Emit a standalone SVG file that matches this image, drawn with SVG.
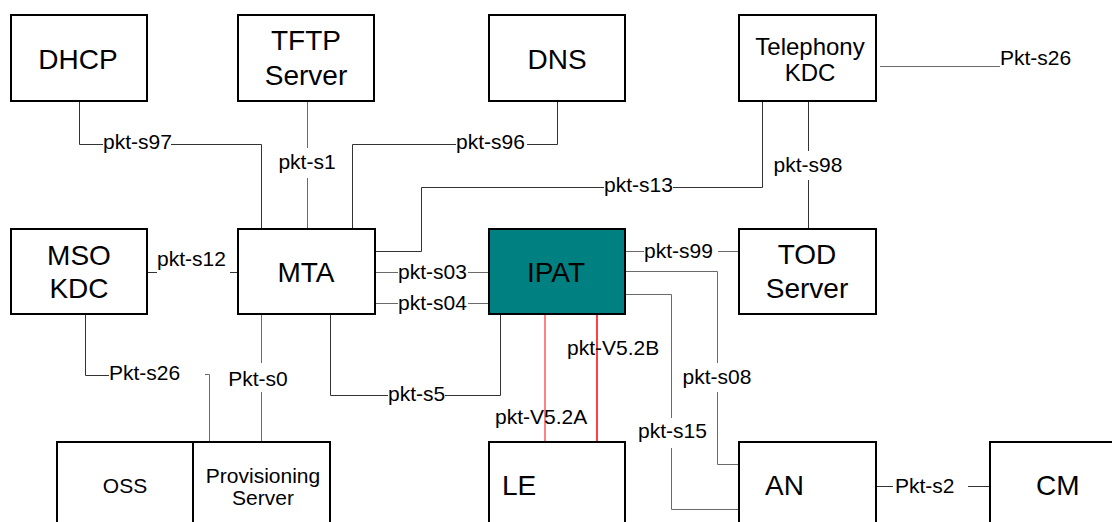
<svg xmlns="http://www.w3.org/2000/svg" width="1112" height="522" viewBox="0 0 1112 522">
  <style>
    .box { fill: #ffffff; stroke: #000000; stroke-width: 2; }
    .teal { fill: #008080; stroke: #000000; stroke-width: 2; }
    .big { font-family: "Liberation Sans", Arial, sans-serif; font-size: 28px; fill: #000000; }
    .mid { font-family: "Liberation Sans", Arial, sans-serif; font-size: 24px; fill: #000000; }
    .small { font-family: "Liberation Sans", Arial, sans-serif; font-size: 21px; fill: #000000; }
    .lbl { font-family: "Liberation Sans", Arial, sans-serif; font-size: 21px; fill: #000000; }
    .c { text-anchor: middle; }
    .wire { fill: none; stroke: #333333; stroke-width: 1; }
    .grey { fill: none; stroke: #6a6a6a; stroke-width: 1; }
    .red { fill: none; stroke: #ff0000; stroke-width: 1.5; }
    .pink { fill: none; stroke: #ff5a5a; stroke-width: 1.5; }
  </style>

  <!-- connectors -->
  <g id="connectors">
    <path class="wire" d="M79.5 101 V144.5 H103 M171 144.5 H261.5 V229"/>
    <path class="grey" d="M307.5 101 V148 M307.5 178 V229"/>
    <path class="wire" d="M352.5 229 V144.5 H456 M527 144.5 H557.5 V101"/>
    <path class="wire" d="M375 251.5 H421.5 V187.5 H604 M673 187.5 H762.5 V101"/>
    <path class="wire" d="M808.5 101 V151 M808.5 180 V229"/>
    <path class="grey" d="M880 66.5 H1000"/>
    <path class="wire" d="M147 272.5 H157 M230 272.5 H238"/>
    <path class="grey" d="M375 272.5 H398 M468 272.5 H489"/>
    <path class="grey" d="M375 303.5 H398 M468 303.5 H489"/>
    <path class="wire" d="M330.5 314 V395.5 H388 M445 395.5 H500.5 V314"/>
    <path class="grey" d="M261.5 314 V363 M261.5 392 V442"/>
    <path class="wire" d="M85.5 314 V375.5 H109"/>
    <path class="grey" d="M205 374.5 H209.5 V442"/>
    <path class="pink" d="M545 314 V442 H555"/>
    <path class="red" d="M597 314 V442"/>
    <path class="grey" d="M625 251.5 H644 M718 251.5 H739"/>
    <path class="grey" d="M625 271.5 H717.5 V363 M717.5 392 V464.5 H739"/>
    <path class="grey" d="M625 294.5 H671.5 V418 M671.5 448 V509.5 H739"/>
    <path class="wire" d="M876 486.5 H893 M968 486.5 H990"/>
  </g>

  <!-- connector labels -->
  <g id="labels">
    <text class="lbl" x="103" y="149">pkt-s97</text>
    <text class="lbl c" x="307" y="169">pkt-s1</text>
    <text class="lbl" x="456" y="149">pkt-s96</text>
    <text class="lbl" x="604" y="192">pkt-s13</text>
    <text class="lbl c" x="808" y="172">pkt-s98</text>
    <text class="lbl" x="1000" y="65">Pkt-s26</text>
    <text class="lbl" x="157" y="266">pkt-s12</text>
    <text class="lbl" x="398" y="279">pkt-s03</text>
    <text class="lbl" x="398" y="310">pkt-s04</text>
    <text class="lbl" x="388" y="401">pkt-s5</text>
    <text class="lbl c" x="258" y="386">Pkt-s0</text>
    <text class="lbl" x="109" y="380">Pkt-s26</text>
    <text class="lbl" x="567" y="355">pkt-V5.2B</text>
    <text class="lbl" x="495" y="424">pkt-V5.2A</text>
    <text class="lbl" x="644" y="258">pkt-s99</text>
    <text class="lbl c" x="717" y="384">pkt-s08</text>
    <text class="lbl" x="638" y="438">pkt-s15</text>
    <text class="lbl" x="895" y="493">Pkt-s2</text>
  </g>

  <!-- top row -->
  <g id="dhcp">
    <rect class="box" x="11" y="15" width="136" height="86"/>
    <text class="big c" x="78" y="69">DHCP</text>
  </g>
  <g id="tftp">
    <rect class="box" x="238" y="15" width="136" height="86"/>
    <text class="big c" x="306" y="50">TFTP</text>
    <text class="big c" x="306" y="85">Server</text>
  </g>
  <g id="dns">
    <rect class="box" x="489" y="15" width="136" height="86"/>
    <text class="big c" x="557" y="69">DNS</text>
  </g>
  <g id="telephony-kdc">
    <rect class="box" x="739" y="15" width="137" height="86"/>
    <text class="mid c" x="810" y="55">Telephony</text>
    <text class="mid c" x="810" y="81">KDC</text>
  </g>

  <!-- middle row -->
  <g id="mso-kdc">
    <rect class="box" x="11" y="229" width="136" height="85"/>
    <text class="big c" x="79" y="265">MSO</text>
    <text class="big c" x="79" y="298">KDC</text>
  </g>
  <g id="mta">
    <rect class="box" x="238" y="229" width="137" height="85"/>
    <text class="big c" x="306" y="282">MTA</text>
  </g>
  <g id="ipat">
    <rect class="teal" x="489" y="229" width="136" height="85"/>
    <text class="big c" x="556" y="282">IPAT</text>
  </g>
  <g id="tod-server">
    <rect class="box" x="739" y="229" width="137" height="85"/>
    <text class="big c" x="807" y="264">TOD</text>
    <text class="big c" x="807" y="298">Server</text>
  </g>

  <!-- bottom row -->
  <g id="oss">
    <rect class="box" x="57" y="442" width="136" height="100"/>
    <text class="small c" x="125" y="493">OSS</text>
  </g>
  <g id="provisioning-server">
    <rect class="box" x="193" y="442" width="137" height="100"/>
    <text class="small c" x="263" y="483">Provisioning</text>
    <text class="small c" x="263" y="505">Server</text>
  </g>
  <g id="le">
    <rect class="box" x="489" y="442" width="136" height="100"/>
    <text class="big" x="502" y="495">LE</text>
  </g>
  <g id="an">
    <rect class="box" x="739" y="442" width="137" height="100"/>
    <text class="big" x="765" y="495">AN</text>
  </g>
  <g id="cm">
    <rect class="box" x="990" y="442" width="140" height="100"/>
    <text class="big" x="1036" y="495">CM</text>
  </g>
</svg>
